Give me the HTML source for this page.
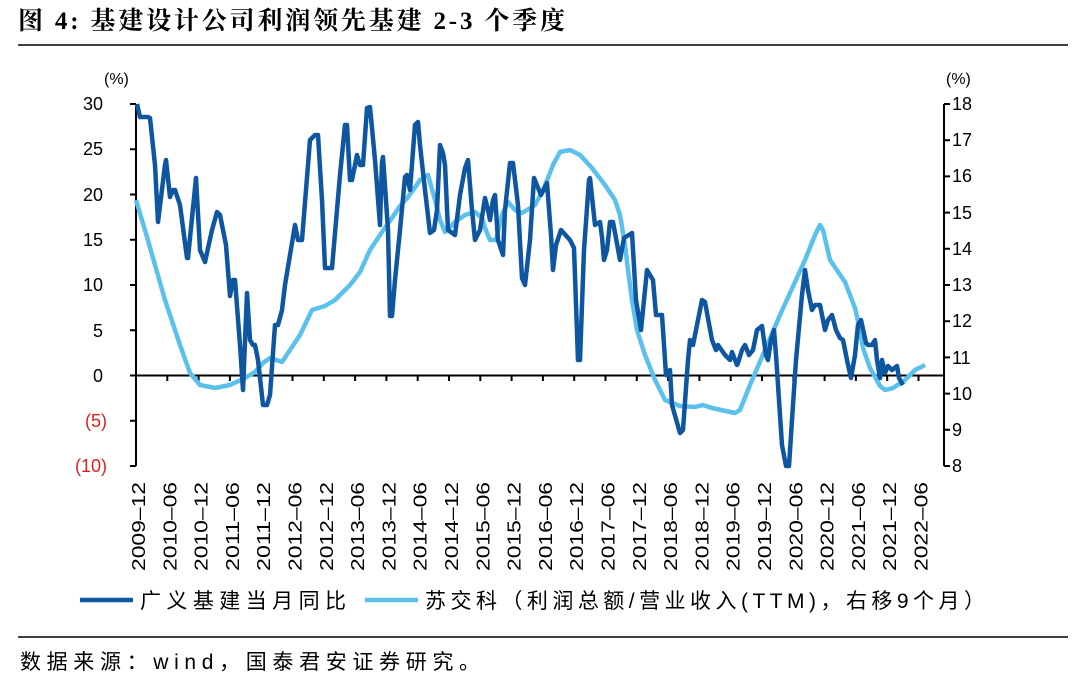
<!DOCTYPE html>
<html><head><meta charset="utf-8"><style>
body{margin:0;background:#fff;width:1080px;height:682px;overflow:hidden}
svg{display:block}
text{font-family:"Liberation Sans","Noto Sans CJK SC",sans-serif}
</style></head><body>
<svg width="1080" height="682" viewBox="0 0 1080 682">
<text x="18" y="29" font-size="25" font-weight="bold" textLength="547" lengthAdjust="spacing" style="font-family:'Liberation Serif','Noto Serif CJK SC',serif">图 4:  基建设计公司利润领先基建 2-3 个季度</text>
<line x1="18" y1="45" x2="1068" y2="45" stroke="#000" stroke-width="1.5"/>
<g font-size="18" fill="#000">
<text x="104" y="84" font-size="16">(%)</text>
<text x="946" y="84" font-size="16">(%)</text>
<g text-anchor="end">
<text x="103" y="110">30</text><text x="103" y="155">25</text><text x="103" y="201">20</text>
<text x="103" y="246">15</text><text x="103" y="291">10</text><text x="103" y="337">5</text>
<text x="103" y="382">0</text><text x="107" y="427" fill="#e02020">(5)</text><text x="107" y="472" fill="#e02020">(10)</text>
</g>
<g>
<text x="952" y="110">18</text><text x="952" y="146">17</text><text x="952" y="182">16</text>
<text x="952" y="219">15</text><text x="952" y="255">14</text><text x="952" y="291">13</text>
<text x="952" y="327">12</text><text x="952" y="364">11</text><text x="952" y="400">10</text>
<text x="952" y="436">9</text><text x="952" y="472">8</text>
</g>
</g>
<g stroke="#000" stroke-width="2" fill="none">
<line x1="136" y1="104" x2="136" y2="466"/>
<path d="M130 104H136M130 149.3H136M130 194.5H136M130 239.8H136M130 285H136M130 330.3H136M130 375.5H136M130 420.8H136M130 466H136"/>
<line x1="944" y1="104" x2="944" y2="466"/>
<path d="M944 104H950M944 140.2H950M944 176.4H950M944 212.6H950M944 248.8H950M944 285H950M944 321.2H950M944 357.4H950M944 393.6H950M944 429.8H950M944 466H950"/>
<line x1="136" y1="375.5" x2="944" y2="375.5"/>
</g>
<g stroke="#000" stroke-width="2">
<line x1="167.3" y1="375.5" x2="167.3" y2="381"/><line x1="198.6" y1="375.5" x2="198.6" y2="381"/><line x1="229.9" y1="375.5" x2="229.9" y2="381"/><line x1="261.2" y1="375.5" x2="261.2" y2="381"/><line x1="292.5" y1="375.5" x2="292.5" y2="381"/><line x1="323.8" y1="375.5" x2="323.8" y2="381"/><line x1="355.1" y1="375.5" x2="355.1" y2="381"/><line x1="386.4" y1="375.5" x2="386.4" y2="381"/><line x1="417.7" y1="375.5" x2="417.7" y2="381"/><line x1="449" y1="375.5" x2="449" y2="381"/><line x1="480.3" y1="375.5" x2="480.3" y2="381"/><line x1="511.6" y1="375.5" x2="511.6" y2="381"/><line x1="542.9" y1="375.5" x2="542.9" y2="381"/><line x1="574.2" y1="375.5" x2="574.2" y2="381"/><line x1="605.5" y1="375.5" x2="605.5" y2="381"/><line x1="636.8" y1="375.5" x2="636.8" y2="381"/><line x1="668.1" y1="375.5" x2="668.1" y2="381"/><line x1="699.4" y1="375.5" x2="699.4" y2="381"/><line x1="730.7" y1="375.5" x2="730.7" y2="381"/><line x1="762" y1="375.5" x2="762" y2="381"/><line x1="793.3" y1="375.5" x2="793.3" y2="381"/><line x1="824.6" y1="375.5" x2="824.6" y2="381"/><line x1="855.9" y1="375.5" x2="855.9" y2="381"/><line x1="887.2" y1="375.5" x2="887.2" y2="381"/><line x1="918.5" y1="375.5" x2="918.5" y2="381"/>
</g>
<g font-size="18" text-anchor="end" fill="#000">
<text transform="translate(145,482) rotate(-90)" textLength="89" lengthAdjust="spacingAndGlyphs">2009–12</text>
<text transform="translate(176.3,482) rotate(-90)" textLength="89" lengthAdjust="spacingAndGlyphs">2010–06</text>
<text transform="translate(207.6,482) rotate(-90)" textLength="89" lengthAdjust="spacingAndGlyphs">2010–12</text>
<text transform="translate(238.9,482) rotate(-90)" textLength="89" lengthAdjust="spacingAndGlyphs">2011–06</text>
<text transform="translate(270.2,482) rotate(-90)" textLength="89" lengthAdjust="spacingAndGlyphs">2011–12</text>
<text transform="translate(301.5,482) rotate(-90)" textLength="89" lengthAdjust="spacingAndGlyphs">2012–06</text>
<text transform="translate(332.8,482) rotate(-90)" textLength="89" lengthAdjust="spacingAndGlyphs">2012–12</text>
<text transform="translate(364.1,482) rotate(-90)" textLength="89" lengthAdjust="spacingAndGlyphs">2013–06</text>
<text transform="translate(395.4,482) rotate(-90)" textLength="89" lengthAdjust="spacingAndGlyphs">2013–12</text>
<text transform="translate(426.7,482) rotate(-90)" textLength="89" lengthAdjust="spacingAndGlyphs">2014–06</text>
<text transform="translate(458,482) rotate(-90)" textLength="89" lengthAdjust="spacingAndGlyphs">2014–12</text>
<text transform="translate(489.3,482) rotate(-90)" textLength="89" lengthAdjust="spacingAndGlyphs">2015–06</text>
<text transform="translate(520.6,482) rotate(-90)" textLength="89" lengthAdjust="spacingAndGlyphs">2015–12</text>
<text transform="translate(551.9,482) rotate(-90)" textLength="89" lengthAdjust="spacingAndGlyphs">2016–06</text>
<text transform="translate(583.2,482) rotate(-90)" textLength="89" lengthAdjust="spacingAndGlyphs">2016–12</text>
<text transform="translate(614.5,482) rotate(-90)" textLength="89" lengthAdjust="spacingAndGlyphs">2017–06</text>
<text transform="translate(645.8,482) rotate(-90)" textLength="89" lengthAdjust="spacingAndGlyphs">2017–12</text>
<text transform="translate(677.1,482) rotate(-90)" textLength="89" lengthAdjust="spacingAndGlyphs">2018–06</text>
<text transform="translate(708.4,482) rotate(-90)" textLength="89" lengthAdjust="spacingAndGlyphs">2018–12</text>
<text transform="translate(739.7,482) rotate(-90)" textLength="89" lengthAdjust="spacingAndGlyphs">2019–06</text>
<text transform="translate(771,482) rotate(-90)" textLength="89" lengthAdjust="spacingAndGlyphs">2019–12</text>
<text transform="translate(802.3,482) rotate(-90)" textLength="89" lengthAdjust="spacingAndGlyphs">2020–06</text>
<text transform="translate(833.6,482) rotate(-90)" textLength="89" lengthAdjust="spacingAndGlyphs">2020–12</text>
<text transform="translate(864.9,482) rotate(-90)" textLength="89" lengthAdjust="spacingAndGlyphs">2021–06</text>
<text transform="translate(896.2,482) rotate(-90)" textLength="89" lengthAdjust="spacingAndGlyphs">2021–12</text>
<text transform="translate(927.5,482) rotate(-90)" textLength="89" lengthAdjust="spacingAndGlyphs">2022–06</text>
</g>
<polyline fill="none" stroke="#5bc0eb" stroke-width="4.5" stroke-linejoin="round" points="136,200 145,230 155,265 165,300 180,345 190,373 200,385 215,388 230,385 245,378 255,372 263,363 270,358 282,362 290,350 300,335 312,310 325,306 335,300 350,285 360,272 370,250 382,232 392,218 400,206 408,197 416,186 420,180 428,175 435,200 440,220 445,232 455,222 465,215 475,212 482,218 485,228 490,240 496,240 502,215 508,202 515,210 522,213 535,205 543,190 548,178 553,165 560,152 570,150 580,155 592,168 605,185 615,200 620,215 625,245 628,270 632,300 637,330 645,355 655,380 665,400 680,406 695,407 703,405 712,408 735,413 740,410 750,385 765,350 780,315 795,282 805,260 815,235 820,225 823,230 830,260 845,282 855,308 860,330 863,348 870,368 880,386 885,390 893,388 905,380 915,370 925,365"/>
<polyline fill="none" stroke="#0e56a0" stroke-width="4.5" stroke-linejoin="round" points="137,104 140,117 148,117 150,118 155,165 158,222 165,165 166,160 170,197 173,190 175,190 180,205 187,258 188,258 196,178 200,250 205,262 212,230 217,212 220,215 226,245 230,296 233,280 235,280 240,345 243,390 247,293 250,340 253,345 255,345 258,360 263,405 267,405 270,395 275,325 278,325 282,310 285,285 295,225 298,240 302,240 310,140 315,135 318,135 322,200 325,268 332,268 340,175 345,125 347,125 350,180 352,180 355,165 357,155 360,165 363,165 367,108 370,107 375,160 380,225 382,162 383,157 388,230 390,316 392,316 395,280 400,230 405,177 407,175 410,190 415,125 418,122 420,145 425,190 430,233 434,230 437,210 440,145 443,153 445,165 448,230 455,235 460,195 465,168 468,160 472,210 475,240 480,230 485,198 488,210 490,220 493,200 495,195 498,240 503,255 505,210 510,163 513,163 518,205 522,278 525,285 530,240 534,178 541,195 547,183 551,235 553,270 556,245 561,230 570,240 574,248 578,360 580,360 584,250 589,180 590,178 595,225 600,222 602,237 604,260 607,250 610,222 613,222 620,260 624,238 632,233 636,300 641,330 647,270 653,280 656,315 662,315 666,375 668,375 670,370 672,405 680,433 683,430 688,360 690,340 693,345 698,320 702,300 705,302 712,340 716,350 718,345 725,355 730,360 732,352 737,365 738,363 742,350 745,345 749,355 753,350 757,330 762,326 766,355 768,360 771,340 774,330 776,355 782,445 786,466 789,466 792,420 796,360 802,295 805,270 808,290 812,310 815,305 820,305 825,330 828,320 832,315 836,330 840,338 843,340 847,360 851,378 855,355 858,325 861,320 866,343 868,345 872,345 875,340 877,360 880,378 882,360 885,373 888,366 892,370 897,366 899,378 903,385"/>
<line x1="80" y1="600" x2="133" y2="600" stroke="#0e56a0" stroke-width="4.5"/>
<text x="140" y="608" font-size="21" textLength="206" lengthAdjust="spacing">广义基建当月同比</text>
<line x1="365" y1="600" x2="418" y2="600" stroke="#5bc0eb" stroke-width="4.5"/>
<text x="425" y="608" font-size="21" textLength="560" lengthAdjust="spacing">苏交科（利润总额/营业收入(TTM)，右移9个月）</text>
<line x1="18" y1="637" x2="1068" y2="637" stroke="#000" stroke-width="1.5"/>
<text x="20" y="669" font-size="21" textLength="460" lengthAdjust="spacing">数据来源：wind，国泰君安证券研究。</text>
</svg>
</body></html>
